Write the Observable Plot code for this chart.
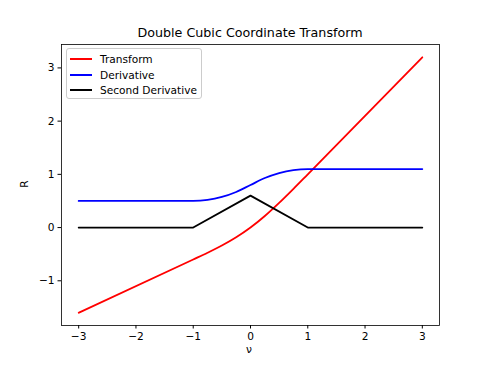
<!DOCTYPE html>
<html><head><meta charset="utf-8">
<script src="https://cdn.jsdelivr.net/npm/d3@7"></script>
<script src="https://cdn.jsdelivr.net/npm/@observablehq/plot@0.6"></script>
<style>
body{margin:0;background:#fff;font-family:"DejaVu Sans",sans-serif;}
#wrap{position:relative;width:488px;height:366px;}
#title{position:absolute;left:0;width:500px;top:25px;text-align:center;font-size:12.7px;color:#000;}
#legend{position:absolute;left:66px;top:48px;width:136px;height:51px;border:1px solid #ccc;border-radius:3px;background:rgba(255,255,255,0.8);box-sizing:border-box;font-size:10.6px;}
.li{position:absolute;left:3px;height:14px;line-height:14px;}
.li span.sw{position:absolute;left:0;top:6px;width:22px;height:2px;}
.li span.tx{position:absolute;left:30px;top:0;white-space:nowrap;}
#ylab{position:absolute;left:20px;top:178px;transform:rotate(-90deg);font-size:10.6px;}
#xlab{position:absolute;left:246px;top:343px;font-size:10.6px;}
</style></head>
<body><div id="wrap"></div>
<script>
const xs = [-3, -1, -0.75, -0.5, -0.25, 0, 0.25, 0.5, 0.75, 1, 3];
const transform = [-1.6, -0.6, -0.473, -0.338, -0.183, 0, 0.217, 0.463, 0.727, 1.0, 3.2];
const derivative = [0.5, 0.5, 0.519, 0.575, 0.669, 0.8, 0.931, 1.025, 1.081, 1.1, 1.1];
const xs2 = [-3, -1, 0, 1, 3];
const second = [0, 0, 0.6, 0, 0];
const seriesNames = ["Transform", "Derivative", "Second Derivative"];
const seriesColors = ["#ff0000", "#0000ff", "#000000"];
const xTicks = [-3, -2, -1, 0, 1, 2, 3];
const yTicks = [-1, 0, 1, 2, 3];

const tData = xs.map((x, i) => ({x, y: transform[i]}));
const dData = xs.map((x, i) => ({x, y: derivative[i]}));
const sData = xs2.map((x, i) => ({x, y: second[i]}));
const fmt = d => String(d).replace("-", "\u2212");

const chart = Plot.plot({
  width: 488, height: 366,
  marginLeft: 61, marginRight: 49, marginTop: 44, marginBottom: 41,
  style: {fontFamily: "DejaVu Sans, sans-serif", fontSize: "10.6px", color: "#000", background: "#fff"},
  x: {domain: [-3.3, 3.3]},
  y: {domain: [-1.84, 3.44]},
  marks: [
    Plot.line(tData, {x: "x", y: "y", stroke: seriesColors[0], strokeWidth: 1.8, curve: "monotone-x"}),
    Plot.line(dData, {x: "x", y: "y", stroke: seriesColors[1], strokeWidth: 1.8, curve: "monotone-x"}),
    Plot.line(sData, {x: "x", y: "y", stroke: seriesColors[2], strokeWidth: 1.8}),
    Plot.frame({stroke: "#000", strokeWidth: 0.8}),
    Plot.axisX({ticks: xTicks, tickSize: 3.5, tickPadding: 3, tickFormat: fmt, label: null}),
    Plot.axisY({ticks: yTicks, tickSize: 3.5, tickPadding: 3.5, tickFormat: fmt, label: null})
  ]
});
const wrap = document.getElementById("wrap");
wrap.appendChild(chart);

const title = document.createElement("div");
title.id = "title"; title.textContent = "Double Cubic Coordinate Transform";
wrap.appendChild(title);

const leg = document.createElement("div");
leg.id = "legend";
seriesNames.forEach((n, i) => {
  const li = document.createElement("div");
  li.className = "li";
  li.style.top = (3 + i * 15.5) + "px";
  li.innerHTML = `<span class="sw" style="background:${seriesColors[i]}"></span><span class="tx">${n}</span>`;
  leg.appendChild(li);
});
wrap.appendChild(leg);

const yl = document.createElement("div"); yl.id = "ylab"; yl.textContent = "R"; wrap.appendChild(yl);
const xl = document.createElement("div"); xl.id = "xlab"; xl.textContent = "\u03bd"; wrap.appendChild(xl);
</script>
</body></html>
